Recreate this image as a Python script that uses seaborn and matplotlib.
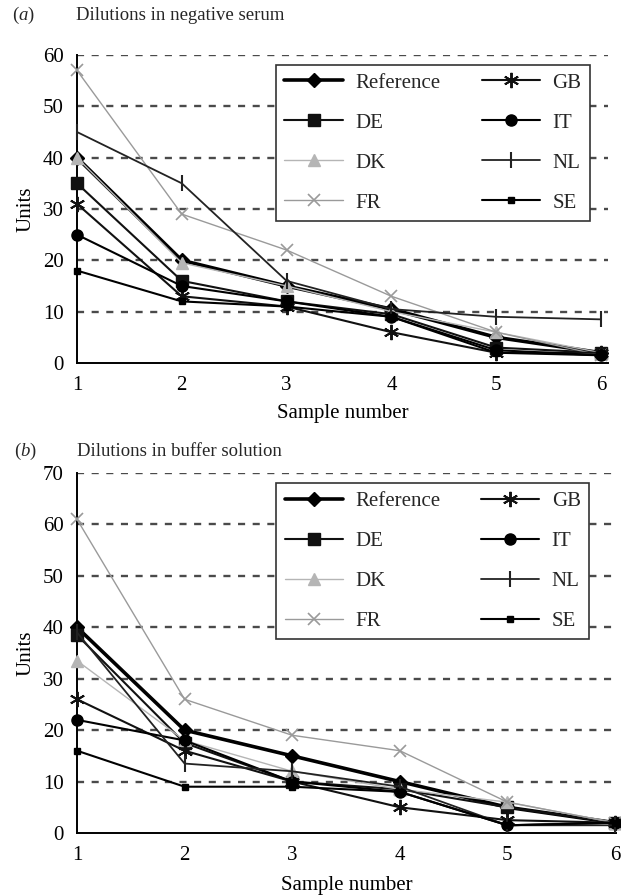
import matplotlib
matplotlib.use("Agg")
import matplotlib.pyplot as plt
import seaborn as sns
import pandas as pd

sns.set_theme(style="white")
plt.rcParams['font.family'] = ['Liberation Serif', 'DejaVu Serif']
plt.rcParams['mathtext.fontset'] = 'custom'
plt.rcParams['mathtext.rm'] = 'Liberation Serif'
plt.rcParams['mathtext.it'] = 'Liberation Serif:italic'

samples = [1, 2, 3, 4, 5, 6]
labs = ["Reference", "DE", "DK", "FR", "GB", "IT", "NL", "SE"]

# Panel (a): dilutions in negative serum
serum_reference = [40, 20, 15, 10.5, 5, 2]
serum_de = [35, 16, 12, 9.5, 3, 2]
serum_dk = [40, 19.5, 15, 10, 6, 2]
serum_fr = [57, 29, 22, 13, 6, 1.5]
serum_gb = [31, 13, 11, 6, 2, 2]
serum_it = [25, 15, 12, 9, 2.5, 1.5]
serum_nl = [45, 35, 16, 10.5, 9, 8.5]
serum_se = [18, 12, 11, 9, 2, 1.5]

# Panel (b): dilutions in buffer solution
buffer_reference = [40, 20, 15, 10, 5, 2]
buffer_de = [38.5, 17.5, 10, 8.5, 5, 2]
buffer_dk = [33.5, 18, 12, 8.5, 6, 2]
buffer_fr = [61, 26, 19, 16, 6, 2]
buffer_gb = [26, 16, 10, 5, 2.5, 2]
buffer_it = [22, 18, 10, 8, 1.5, 2]
buffer_nl = [39, 13.5, 12, 9, 1.5, 1.5]
buffer_se = [16, 9, 9, 8, 1.5, 2]

serum = [serum_reference, serum_de, serum_dk, serum_fr, serum_gb, serum_it, serum_nl, serum_se]
buffer = [buffer_reference, buffer_de, buffer_dk, buffer_fr, buffer_gb, buffer_it, buffer_nl, buffer_se]

def long_df(series):
    rows = []
    for lab, vals in zip(labs, series):
        for s, v in zip(samples, vals):
            rows.append({"Lab": lab, "Sample": s, "Units": v})
    return pd.DataFrame(rows)

styles = {
    "Reference": dict(color="black", lw=2.6, marker="D", ms=7, mew=1),
    "DE": dict(color="#111111", lw=1.5, marker="s", ms=8, mew=1),
    "DK": dict(color="#b5b5b5", lw=1.0, marker="^", ms=8, mew=1),
    "FR": dict(color="#9a9a9a", lw=1.0, marker="x", ms=9, mew=1.2),
    "GB": dict(color="#111111", lw=1.5, marker=(6, 2, 0), ms=11, mew=1.4),
    "IT": dict(color="black", lw=1.5, marker="o", ms=8, mew=1),
    "NL": dict(color="#222222", lw=1.3, marker="|", ms=11, mew=1.5),
    "SE": dict(color="black", lw=1.5, marker="s", ms=4.5, mew=1),
}

FS = 15
TFS = 13.5
W, H = 621, 896
fig = plt.figure(figsize=(W / 100, H / 100), dpi=100)

def px_axes(left, right, top, bottom):
    return fig.add_axes([left / W, 1 - bottom / H, (right - left) / W, (bottom - top) / H])

ax_a = px_axes(77, 608, 55, 363)
ax_b = px_axes(77, 616, 473, 833)

def draw(ax, df, ymax, xmax, leg_box, xlabelpad):
    for lab in labs:
        sub = df[df["Lab"] == lab]
        st = styles[lab]
        sns.lineplot(data=sub, x="Sample", y="Units", ax=ax, label=lab,
                     color=st["color"], lw=st["lw"], marker=st["marker"],
                     ms=st["ms"], mew=st["mew"], mec=st["color"], mfc=st["color"],
                     zorder=3, clip_on=False)
    ax.set_xlim(1, xmax)
    ax.set_ylim(0, ymax)
    ax.set_xticks(samples)
    ax.set_yticks(range(0, ymax + 1, 10))
    for y in range(10, ymax + 1, 10):
        ax.axhline(y, color="#4a4a4a", lw=1.7, ls=(0, (3.0, 3.2)), zorder=1)
    for side in ["top", "right"]:
        ax.spines[side].set_visible(False)
    for side in ["left", "bottom"]:
        ax.spines[side].set_color("black")
        ax.spines[side].set_linewidth(1.4)
    ax.tick_params(axis="both", direction="inout", length=9, width=1.2,
                   colors="black", labelsize=FS, pad=5)
    ax.tick_params(axis="y", length=9, pad=5)
    ax.set_xlabel("Sample number", fontsize=FS, color="black", labelpad=xlabelpad)
    ax.set_ylabel("Units", fontsize=FS, color="black", labelpad=5)
    ax.grid(False)
    leg = ax.legend(loc="upper left", bbox_to_anchor=leg_box, mode="expand",
                    ncol=2, fontsize=FS, frameon=True, fancybox=False,
                    handlelength=2.8, handletextpad=0.6, labelspacing=0.98,
                    borderpad=0.4, columnspacing=2.5, borderaxespad=0)
    fr = leg.get_frame()
    fr.set_edgecolor("#333333")
    fr.set_linewidth(1.2)
    fr.set_facecolor("white")
    fr.set_alpha(1)
    leg.set_zorder(5)

draw(ax_a, long_df(serum), 60, 6 + 7 / 105, (0.375, 0.464, 0.591, 0.504), 6)
draw(ax_b, long_df(buffer), 70, 6 + 1 / 107.8, (0.37, 0.539, 0.58, 0.433), 8)

fig.text(12 / W, 1 - 15 / H, r"($\mathit{a}$)", fontsize=TFS, va="center", ha="left")
fig.text(76 / W, 1 - 15 / H, "Dilutions in negative serum", fontsize=TFS, va="center", ha="left")
fig.text(14 / W, 1 - 451 / H, r"($\mathit{b}$)", fontsize=TFS, va="center", ha="left")
fig.text(77 / W, 1 - 451 / H, "Dilutions in buffer solution", fontsize=TFS, va="center", ha="left")

fig.savefig("out.png", dpi=100)
